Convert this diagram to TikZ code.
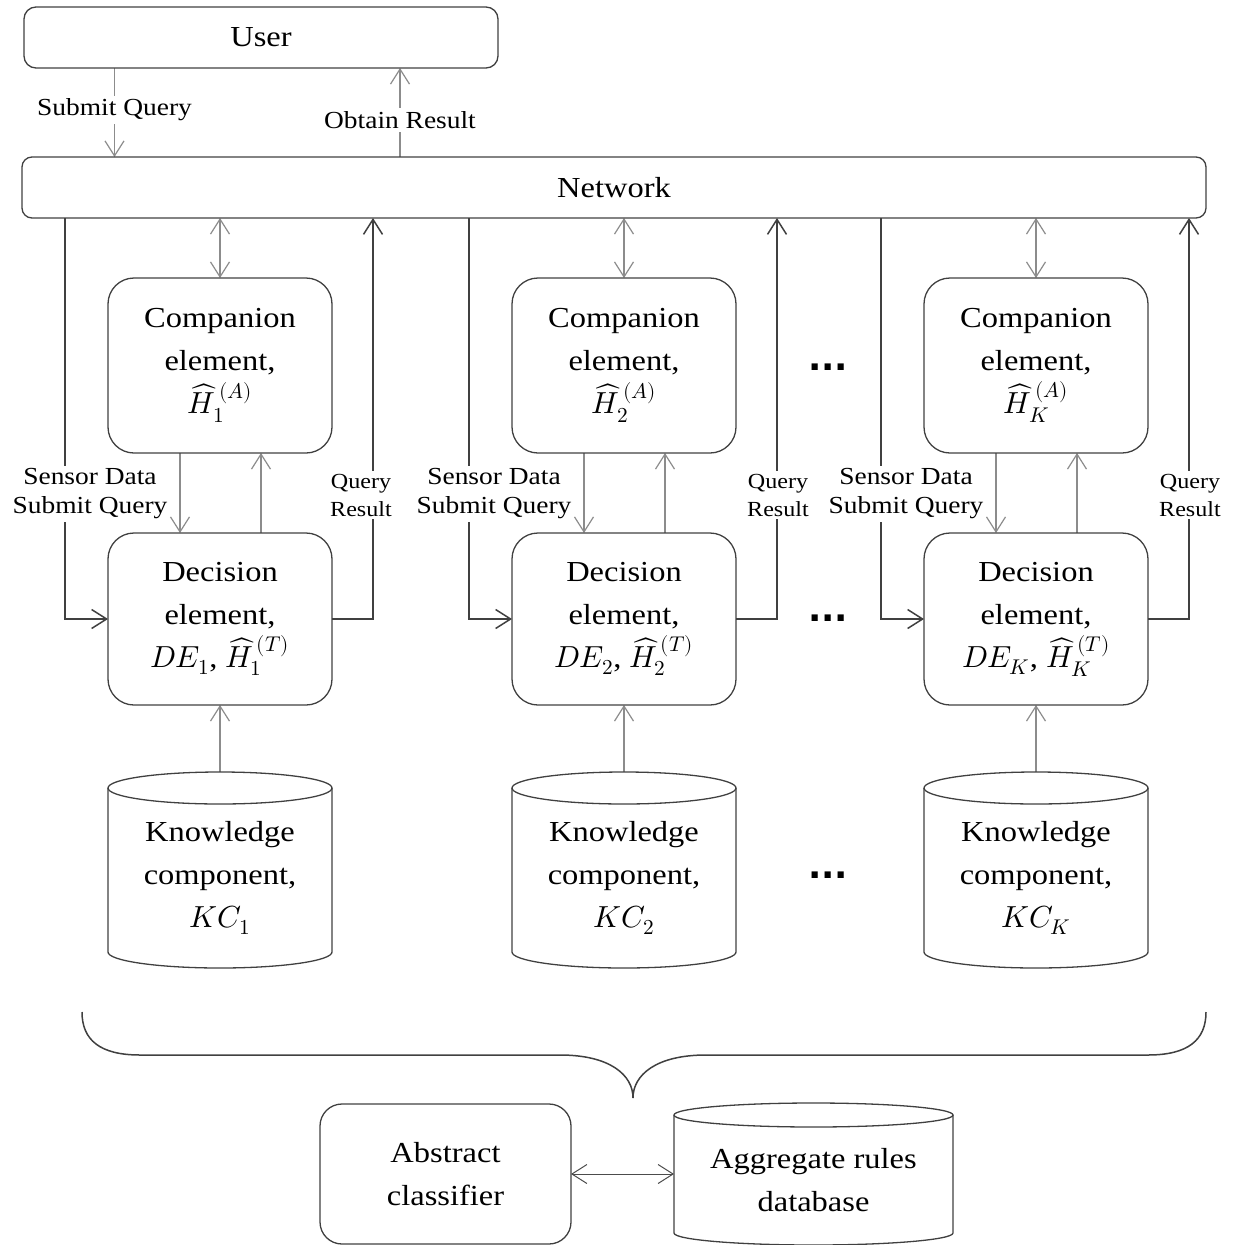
\documentclass[tikz,border=0pt]{standalone}
\usepackage{fontspec}
\usepackage{unicode-math}
\setmainfont{Liberation Serif}[FakeStretch=1.12]
\setmathfont{Latin Modern Math}[Scale=1.05]
\newfontfamily\dotfont{DejaVu Sans}
\usetikzlibrary{arrows.meta,calc}

\pgfdeclarelayer{wires}
\pgfsetlayers{wires,main}

\tikzset{
  box/.style={draw=black!75, line width=1.3pt, rounded corners=#1, align=center, outer sep=0pt},
  box/.default=26pt,
  bigtext/.style={font=\fontsize{29}{43}\selectfont},
  lbl/.style={font=\fontsize{24.5}{29}\selectfont, fill=white, inner xsep=2pt, inner ysep=3pt, align=center},
  smalllbl/.style={font=\fontsize{21.5}{28}\selectfont, fill=white, inner xsep=2pt, inner ysep=3pt, align=center},
  soft/.style={draw=black!45, line width=1.2pt},
  hard/.style={draw=black!75, line width=1.5pt},
  fine/.style={draw=black!70, line width=1pt},
  drumline/.style={draw=black!75, line width=1.3pt},
  hollow/.style={minimum width=#1, inner sep=0pt, outer sep=0pt},
  dotrow/.style={font=\dotfont\bfseries\fontsize{35}{35}\selectfont, anchor=base},
  >={Straight Barb[length=15pt,width=19pt]}
}

% outline of a database drum around an empty node: node, x radius, y radius
\newcommand\drumoutline[3]{%
  \draw[drumline] ([yshift=-#3]#1.north) ellipse [x radius=#2, y radius=#3];
  \draw[drumline] ([yshift=-#3]#1.north west) -- ([yshift=#3]#1.south west)
     arc[start angle=180, end angle=360, x radius=#2, y radius=#3]
     -- ([yshift=-#3]#1.north east);
}

\begin{document}
\begin{tikzpicture}[x=1pt, y=-1pt]
\useasboundingbox (0,0) rectangle (1235,1245);

% top row
\node[box=12pt, minimum width=474pt, minimum height=61pt, bigtext] (user) at (261,37.5) {User};
\node[box=10pt, minimum width=1184pt, minimum height=61pt, bigtext] (net) at (614,187.5) {Network};

\node[lbl] (sq) at (114.5,110) {Submit Query};
\node[lbl] (ob) at (400,120) {Obtain Result};

\begin{pgfonlayer}{wires}
  \draw[soft,->] (user.south -| sq) -- (net.north -| sq);
  \draw[soft,->] (net.north -| ob) -- (user.south -| ob);
\end{pgfonlayer}

% one column per decision element
\foreach \i/\cx/\lab/\qx in {1/220/1/361, 2/624/2/778, 3/1036/K/1190}{
  \node[box, minimum width=224pt, minimum height=175pt, bigtext] (comp\i) at (\cx,365.5)
    {Companion\\element,\\$\widehat{H}_{\lab}^{\,(A)}$};
  \node[box, minimum width=224pt, minimum height=172pt, bigtext] (dec\i) at (\cx,619)
    {Decision\\element,\\$DE_{\lab}$, $\widehat{H}_{\lab}^{\,(T)}$};
  \node[hollow=224pt, minimum height=196pt] (kc\i) at (\cx,870) {};
  \drumoutline{kc\i}{112pt}{16pt}
  \node[bigtext, align=center] (kct\i) at (\cx,878) {Knowledge\\component,\\$KC_{\lab}$};

  \node[lbl] (sd\i) at (\cx-130,494) {Sensor Data\\Submit Query};
  \node[smalllbl] (qr\i) at (\qx,495) {Query\\Result};

  \begin{pgfonlayer}{wires}
    \draw[soft,<->] (net.south -| comp\i.north) -- (comp\i.north);
    \draw[soft,->] ([xshift=-40pt]comp\i.south) -- ([xshift=-40pt]dec\i.north);
    \draw[soft,->] ([xshift=41pt]dec\i.north) -- ([xshift=41pt]comp\i.south);
    \draw[soft,->] (kc\i.north) -- (dec\i.south);
    \draw[hard,->] ($(dec\i.west |- net.south)+(-43,0)$) |- (dec\i.west);
    \draw[hard,->] (dec\i.east) -| ($(dec\i.east |- net.south)+(41,0)$);
  \end{pgfonlayer}
}

% ellipses between the columns
\node[dotrow] (dots1) at (828,370) {...};
\node[dotrow] (dots2) at (828,621) {...};
\node[dotrow] (dots3) at (828,878) {...};

% brace gathering all columns
\draw[hard] (82,1012) .. controls (82,1040) and (100,1055) .. (140,1055)
  -- (560,1055) .. controls (610,1055) and (633,1075) .. (633,1098)
  .. controls (633,1075) and (656,1055) .. (706,1055)
  -- (1148,1055) .. controls (1188,1055) and (1206,1040) .. (1206,1012);

% aggregate level
\node[box=22pt, minimum width=251pt, minimum height=140pt, bigtext] (abs) at (445.5,1174) {Abstract\\classifier};
\node[hollow=279pt, minimum height=142pt] (agg) at (813.5,1174) {};
\drumoutline{agg}{139.5pt}{12pt}
\node[bigtext, align=center] (aggt) at (813.5,1180) {Aggregate rules\\database};
\draw[fine,<->] (abs.east) -- (agg.west);

\end{tikzpicture}
\end{document}
